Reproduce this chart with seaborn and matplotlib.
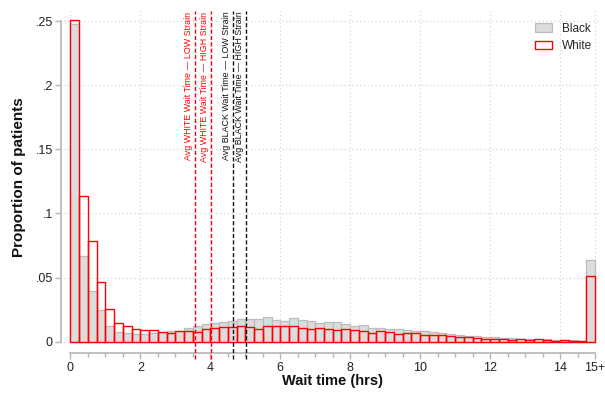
import numpy as np
import pandas as pd
import matplotlib
matplotlib.use("Agg")
import matplotlib.pyplot as plt
import seaborn as sns
from matplotlib.patches import Patch

# ---- data (proportion of patients per 15-minute bin; last bin = 15+ hrs) ----
bin_width = 0.25
black_props = [
    0.248, 0.0665, 0.0397, 0.0249, 0.0126, 0.0079, 0.0065, 0.0060, 0.0060, 0.0065,
    0.0079, 0.0084, 0.0086, 0.0105, 0.0123, 0.0134, 0.0147, 0.0152, 0.0162, 0.0173,
    0.0178, 0.0178, 0.0191, 0.0170, 0.0162, 0.0186, 0.0170, 0.0160, 0.0147, 0.0152,
    0.0152, 0.0139, 0.0123, 0.0128, 0.0107, 0.0107, 0.0099, 0.0097, 0.0089, 0.0086,
    0.0081, 0.0073, 0.0071, 0.0060, 0.0055, 0.0045, 0.0042, 0.0037, 0.0037, 0.0031,
    0.0026, 0.0021, 0.0018, 0.0018, 0.0018, 0.0013, 0.0013, 0.0010, 0.0005, 0.0641,
]
white_props = [
    0.251, 0.114, 0.0784, 0.0466, 0.0254, 0.0149, 0.0120, 0.0099, 0.0089, 0.0089,
    0.0076, 0.0071, 0.0086, 0.0086, 0.0079, 0.0097, 0.0105, 0.0113, 0.0113, 0.0123,
    0.0113, 0.0099, 0.0126, 0.0126, 0.0123, 0.0123, 0.0105, 0.0102, 0.0107, 0.0097,
    0.0089, 0.0097, 0.0089, 0.0081, 0.0065, 0.0084, 0.0076, 0.0063, 0.0065, 0.0071,
    0.0050, 0.0050, 0.0052, 0.0045, 0.0039, 0.0034, 0.0026, 0.0021, 0.0024, 0.0021,
    0.0013, 0.0018, 0.0013, 0.0018, 0.0013, 0.0008, 0.0010, 0.0005, 0.0005, 0.0516,
]
avg_line_values = [3.56, 4.02, 4.66, 5.02]
avg_line_labels = [
    "Avg WHITE Wait Time \u2014 LOW Strain",
    "Avg WHITE Wait Time \u2014 HIGH Strain",
    "Avg BLACK Wait Time \u2014 LOW Strain",
    "Avg BLACK Wait Time \u2014 HIGH Strain",
]
avg_line_groups = ["White", "White", "Black", "Black"]
x_tick_values = [0, 2, 4, 6, 8, 10, 12, 14, 15]
x_tick_labels = ["0", "2", "4", "6", "8", "10", "12", "14", "15+"]
y_tick_values = [0, 0.05, 0.10, 0.15, 0.20, 0.25]
y_tick_labels = ["0", ".05", ".1", ".15", ".2", ".25"]
legend_labels = ["Black", "White"]

n_bins = len(black_props)
bin_lo = 0.0
bin_hi = n_bins * bin_width
centers = bin_lo + bin_width * (np.arange(n_bins) + 0.5)
df = pd.DataFrame({"wait": centers, "black": black_props, "white": white_props})

sns.set_style("white")
plt.rcParams["font.family"] = ["Liberation Sans", "DejaVu Sans"]

W, H = 605, 394
fig = plt.figure(figsize=(W / 100, H / 100), dpi=100)
ax_left, ax_right, ax_top, ax_bottom = 63.5, 600.25, 11.0, 345.5
ax = fig.add_axes([ax_left / W, 1 - ax_bottom / H, (ax_right - ax_left) / W, (ax_bottom - ax_top) / H])

grey_fill = "#dcdcdc"
grey_edge = "#bcbcbc"
red = "#ff0000"
line_colors = {"White": red, "Black": "#111111"}

# grid
for yv in y_tick_values:
    ax.axhline(yv, color="#cfcfcf", lw=0.8, ls=(0, (1, 2.5)), zorder=0)
for xv in x_tick_values:
    ax.axvline(xv, color="#cfcfcf", lw=0.8, ls=(0, (1, 2.5)), zorder=0)

sns.histplot(x=df["wait"], weights=df["black"], bins=n_bins, binrange=(bin_lo, bin_hi),
             stat="count", color=grey_fill, edgecolor=grey_edge, linewidth=0.9, alpha=1,
             ax=ax, zorder=2)
sns.histplot(x=df["wait"], weights=df["white"], bins=n_bins, binrange=(bin_lo, bin_hi),
             stat="count", fill=False, color=red, linewidth=1.0, ax=ax, zorder=3)

for xv, lab, grp in zip(avg_line_values, avg_line_labels, avg_line_groups):
    c = line_colors[grp]
    ax.axvline(xv, ymin=-0.04, ymax=1.0, color=c, lw=1.0, ls=(0, (3, 1.6)),
               clip_on=False, zorder=4)
    ax.annotate(lab, xy=(xv, 1.0), xycoords=("data", "axes fraction"),
                xytext=(-1.5, -0.5), textcoords="offset points",
                rotation=90, ha="right", va="top", fontsize=6.4, color=c)

ax.set_xlim(-0.2, 15.15)
ax.set_ylim(-0.003, 0.258)

ax.set_xticks(x_tick_values)
ax.set_xticklabels(x_tick_labels)
ax.set_xticks(np.arange(0, 15.01, 0.5), minor=True)
ax.set_yticks(y_tick_values)
ax.set_yticklabels(y_tick_labels)

spine_col = "#b5b5b5"
for s in ["top", "right"]:
    ax.spines[s].set_visible(False)
ax.spines["left"].set_position(("outward", 1.5))
ax.spines["bottom"].set_position(("outward", 5.5))
ax.spines["left"].set_bounds(0, 0.25)
ax.spines["bottom"].set_bounds(0, 15)
for s in ["left", "bottom"]:
    ax.spines[s].set_color(spine_col)
    ax.spines[s].set_linewidth(1.2)

ax.tick_params(axis="x", which="both", bottom=True, top=False)
ax.tick_params(axis="y", which="both", left=True, right=False)
ax.tick_params(axis="both", which="major", direction="out", length=4.2, width=1.0,
               color=spine_col, labelsize=9, labelcolor="#222222", pad=2.5)
ax.tick_params(axis="x", which="minor", direction="out", length=3.0, width=1.0,
               color=spine_col)
ax.tick_params(axis="y", which="major", pad=2)

ax.set_xlabel("Wait time (hrs)", fontsize=10.5, fontweight="bold", color="#111111")
ax.set_ylabel("Proportion of patients", fontsize=11, fontweight="bold", color="#111111")
ax.xaxis.set_label_coords((332.5 - ax_left) / (ax_right - ax_left), (ax_bottom - 374) / (ax_bottom - ax_top))
ax.yaxis.set_label_coords((26 - ax_left) / (ax_right - ax_left), (ax_bottom - 177) / (ax_bottom - ax_top))

handles = [Patch(facecolor=grey_fill, edgecolor=grey_edge, linewidth=0.9),
           Patch(facecolor="white", edgecolor=red, linewidth=1.0)]
fig.legend(handles, legend_labels, loc="upper left", bbox_to_anchor=(535 / W, 1 - 22.5 / H),
           frameon=False, fontsize=8.5, handlelength=1.45, handleheight=0.7,
           handletextpad=0.85, labelspacing=0.45, borderpad=0, borderaxespad=0)

fig.savefig("out.png", dpi=100, facecolor="white")
